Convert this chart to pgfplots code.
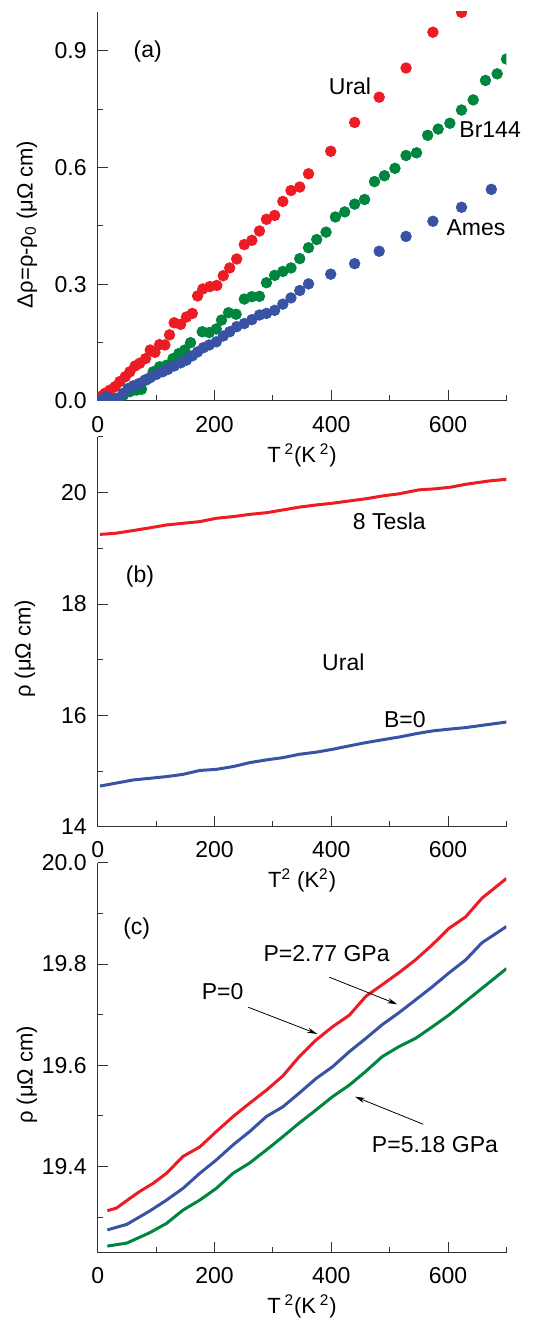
\documentclass[border=0pt]{standalone}
\usepackage{pgfplots}
\pgfplotsset{compat=1.18}
\usepackage{fontspec}
\setmainfont{Liberation Sans}
\usetikzlibrary{arrows.meta}
\definecolor{cred}{RGB}{237,28,36}
\definecolor{cgreen}{RGB}{0,133,62}
\definecolor{cblue}{RGB}{57,83,164}
\newcommand{\tf}{\fontsize{11.5}{13}\selectfont}
\newcommand{\lf}{\fontsize{11}{13}\selectfont}
\pgfplotsset{
  panel/.style={
    scale only axis, width=204.4pt,
    axis lines*=left,
    axis line style={draw=black!80, line width=0.5pt},
    tick style={draw=black!80, line width=0.5pt},
    tick align=inside,
    major tick length=5.3pt, minor tick length=2.8pt,
    xmin=0, xmax=700,
    xtick={0,200,400,600},
    minor xtick={100,300,500,700},
    /pgf/number format/assume math mode=true,
    ticklabel style={font=\tf},
    xticklabel style={yshift=-4pt},
    yticklabel style={xshift=-2pt},
    label style={font=\lf},
    xlabel style={at={(axis description cs:0.5,0)}, anchor=center, yshift=-27pt},
    clip mode=individual,
    clip marker paths=true,
    anchor=south west,
  },
  dots/.style={only marks, mark=*, mark size=2.65pt, draw=#1, fill=#1},
  curve/.style={no marks, draw=#1, line width=1.5pt},
}
\begin{document}
\begin{tikzpicture}
\path[use as bounding box] (0,0) rectangle (272pt,660pt);
% ---------------- (a)
\begin{axis}[panel, at={(48.85pt,459.5pt)}, height=194.5pt,
  ymin=0, ymax=1.0,
  ytick={0,0.3,0.6,0.9}, minor ytick={0.15,0.45,0.75},
  yticklabel style={/pgf/number format/fixed, /pgf/number format/fixed zerofill, /pgf/number format/precision=1},
  xlabel={T\,\textsuperscript{2}(K\,\textsuperscript{2})},
  ylabel={Δρ=ρ-ρ\textsubscript{0} (μΩ cm)},
  ylabel style={at={(axis description cs:-0.173,0.454)}, anchor=center},
]
\addplot[dots=cred] coordinates {
(4,0.011)(12.5,0.020)(21,0.028)(30,0.037)(38,0.050)(47,0.062)(55,0.075)(64,0.090)(72,0.097)(82,0.109)
(90,0.131)(98,0.125)(106,0.145)(115,0.144)(123,0.170)(131,0.201)(142,0.197)(152,0.216)(162,0.225)(171,0.270)
(180,0.288)(192,0.294)(204,0.297)(215,0.322)(226,0.342)(238,0.365)(251,0.402)(264,0.413)(277,0.437)(289,0.467)
(303,0.477)(317,0.513)(331,0.541)(346,0.550)(361,0.584)(399,0.642)(440,0.716)(482,0.781)(528,0.856)(574,0.948)(623,0.999)
};
\addplot[dots=cgreen] coordinates {
(10,0.0)(21,0.003)(32,0.007)(44,0.015)(55,0.024)(66,0.028)(75,0.030)(83,0.054)(95,0.075)(106,0.088)(118,0.092)
(129,0.109)(139,0.122)(149,0.131)(159,0.150)(179,0.178)(191,0.176)(203,0.185)(212,0.208)(224,0.227)(237,0.223)
(251,0.262)(264,0.268)(277,0.269)(289,0.304)(303,0.323)(317,0.333)(331,0.342)(346,0.366)(361,0.394)(375,0.415)
(391,0.434)(407,0.473)(423,0.486)(440,0.506)(457,0.518)(474,0.564)(491,0.579)(509,0.598)(528,0.631)(546,0.638)
(565,0.683)(583,0.699)(603,0.714)(623,0.748)(643,0.774)(664,0.824)(684,0.841)(700,0.879)
};
\addplot[dots=cblue] coordinates {
(7,0.004)(15,0.011)(27,0.003)(35,0.007)(44,0.020)(52,0.032)(61,0.039)(71,0.045)(81,0.054)(90,0.060)
(100,0.068)(111,0.075)(120,0.081)(131,0.090)(142,0.098)(152,0.105)(162,0.116)(171,0.126)(181,0.137)(191,0.144)
(203,0.152)(215,0.167)(226,0.178)(238,0.191)(251,0.199)(264,0.209)(277,0.221)(289,0.225)(303,0.233)(317,0.249)
(331,0.265)(346,0.284)(361,0.301)(399,0.326)(440,0.353)(482,0.385)(528,0.423)(574,0.462)(623,0.498)(674,0.544)
};
\node[font=\tf] at (axis cs:85.6,0.898) {(a)};
\node[font=\tf] at (axis cs:432,0.81) {Ural};
\node[font=\tf] at (axis cs:672,0.698) {Br144};
\node[font=\tf] at (axis cs:647.7,0.4465) {Ames};
\end{axis}
% ---------------- (b)
\begin{axis}[panel, at={(48.85pt,246.65pt)}, height=194.85pt,
  ymin=14, ymax=21,
  ytick={14,16,18,20}, minor ytick={15,17,19,21},
  xlabel={T\textsuperscript{2} (K\textsuperscript{2})},
  ylabel={ρ (μΩ cm)},
  ylabel style={at={(axis description cs:-0.178,0.456)}, anchor=center},
]
\addplot[curve=cred] coordinates {
(4,19.25)(30,19.27)(61,19.32)(90,19.37)(118,19.42)(146,19.45)(175,19.48)(203,19.54)(232,19.57)(260,19.61)
(289,19.64)(323,19.70)(345,19.74)(375,19.78)(402,19.81)(430,19.85)(459,19.89)(487,19.94)(516,19.98)(550,20.05)
(579,20.07)(605,20.10)(630,20.15)(670,20.21)(700,20.24)
};
\addplot[curve=cblue] coordinates {
(4,14.73)(30,14.78)(61,14.84)(90,14.87)(118,14.90)(146,14.94)(175,15.01)(203,15.03)(232,15.08)(260,15.15)
(289,15.20)(317,15.24)(345,15.30)(375,15.34)(402,15.39)(430,15.45)(459,15.51)(487,15.56)(516,15.61)(545,15.67)
(573,15.72)(600,15.75)(630,15.78)(665,15.83)(700,15.88)
};
\node[font=\tf] at (axis cs:72.4,18.49) {(b)};
\node[font=\tf] at (axis cs:499.3,19.48) {8 Tesla};
\node[font=\tf] at (axis cs:420.6,16.96) {Ural};
\node[font=\tf] at (axis cs:526,15.93) {B=0};
\end{axis}
% ---------------- (c)
\begin{axis}[panel, at={(48.85pt,33.65pt)}, height=195pt,
  ymin=19.23, ymax=20.0,
  ytick={19.4,19.6,19.8,20.0}, minor ytick={19.3,19.5,19.7,19.9},
  yticklabel style={/pgf/number format/fixed, /pgf/number format/fixed zerofill, /pgf/number format/precision=1},
  xlabel={T\,\textsuperscript{2}(K\,\textsuperscript{2})},
  ylabel={ρ (μΩ cm)},
  ylabel style={at={(axis description cs:-0.173,0.456)}, anchor=center},
]
\addplot[curve=cred] coordinates {
(16.5,19.313)(32,19.318)(50,19.333)(72,19.351)(95,19.367)(118,19.387)(146,19.420)(175,19.439)(203,19.469)(232,19.499)
(260,19.525)(289,19.551)(317,19.579)(345,19.617)(374,19.650)(402,19.676)(431,19.699)(459,19.736)(487,19.759)(516,19.783)
(544,19.808)(573,19.838)(601,19.870)(630,19.893)(658,19.930)(700,19.969)
};
\addplot[curve=cblue] coordinates {
(16.5,19.275)(50,19.286)(90,19.313)(118,19.334)(146,19.357)(175,19.387)(203,19.413)(232,19.443)(260,19.469)(289,19.499)
(317,19.518)(345,19.545)(374,19.574)(402,19.597)(431,19.627)(459,19.653)(487,19.680)(516,19.704)(544,19.729)(573,19.755)
(601,19.782)(630,19.808)(658,19.842)(700,19.874)
};
\addplot[curve=cgreen] coordinates {
(16.5,19.243)(50,19.249)(90,19.270)(118,19.288)(146,19.314)(175,19.334)(203,19.357)(232,19.387)(260,19.407)(289,19.433)
(317,19.459)(345,19.486)(374,19.512)(402,19.538)(431,19.561)(459,19.588)(487,19.617)(516,19.637)(544,19.653)(573,19.676)
(601,19.699)(630,19.726)(658,19.752)(700,19.791)
};
\node[font=\tf] at (axis cs:66.8,19.87) {(c)};
\node[font=\tf] at (axis cs:392,19.82) {P=2.77 GPa};
\node[font=\tf] at (axis cs:214,19.745) {P=0};
\node[font=\tf] at (axis cs:577.5,19.443) {P=5.18 GPa};
\draw[line width=0.4pt, -{Stealth[length=5pt,width=2.6pt]}] (axis cs:396.6,19.774) -- (axis cs:513,19.7205);
\draw[line width=0.4pt, -{Stealth[length=5pt,width=2.6pt]}] (axis cs:257.9,19.7146) -- (axis cs:376,19.662);
\draw[line width=0.4pt, -{Stealth[length=5pt,width=2.6pt]}] (axis cs:557.5,19.4836) -- (axis cs:440.6,19.538);
\end{axis}
\end{tikzpicture}
\end{document}
